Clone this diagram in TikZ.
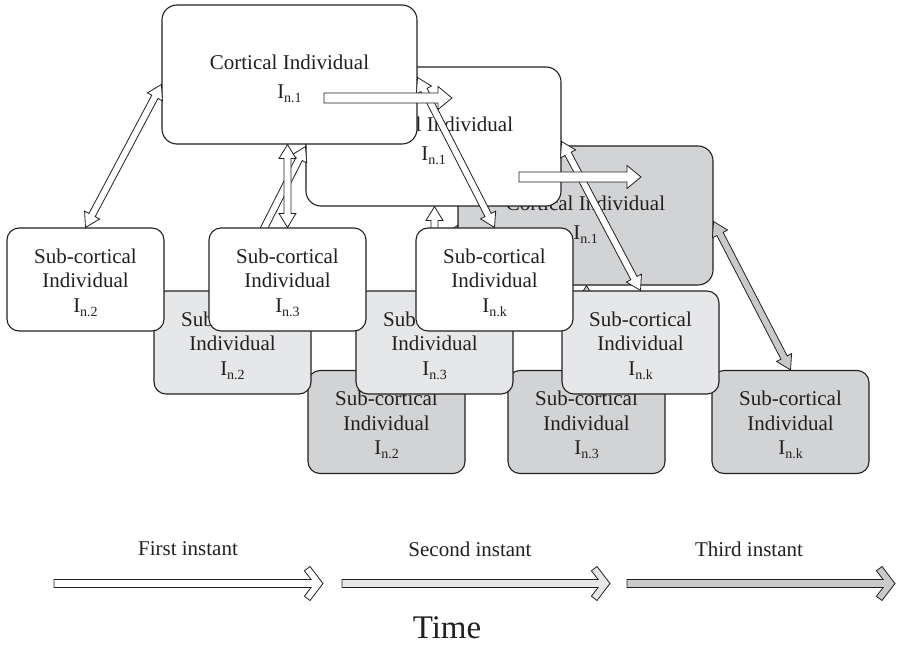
\documentclass[tikz,border=0pt]{standalone}
\usepackage{fontspec}
\setmainfont{Liberation Serif}
\usetikzlibrary{calc}

\definecolor{ink}{HTML}{231F20}
\definecolor{greyB}{HTML}{E6E7E8}
\definecolor{greyC}{HTML}{D1D3D4}
\definecolor{greyCarrow}{HTML}{C8C9CB}

% index with a lowered subscript, e.g. I_{n.1}
\newcommand\ind[1]{I\raisebox{-4pt}{\fontsize{14}{14}\selectfont #1}}
% box texts, set a little below the box centre
\newcommand\cortext{\rule{0pt}{23pt}Cortical Individual\\\ind{n.1}}
\newcommand\subtext[1]{\rule{0pt}{20.5pt}Sub-cortical\\Individual\\\ind{#1}}

\tikzset{
  box/.style={draw=ink, line width=1.1pt, inner sep=0pt, align=center,
    text=ink, font=\fontsize{21}{24.5}\selectfont},
  subbox/.style={box, rounded corners=12pt, minimum width=157pt, minimum height=103pt},
  cortbox/.style={box, rounded corners=15pt, minimum width=255pt, minimum height=139pt,
    font=\fontsize{21}{29}\selectfont},
  arrowline/.style={draw=ink, line width=0.8pt, line join=miter},
  lbl/.style={text=ink, font=\fontsize{21}{24}\selectfont},
}

% hollow double-headed link between two points
\newcommand\linkarrow[3]{%
  \coordinate (la) at (#2);
  \coordinate (lb) at (#3);
  \coordinate (lm1) at ($(la)!14pt!(lb)$);
  \coordinate (lm2) at ($(lb)!14pt!(la)$);
  \filldraw[arrowline, fill=#1] (la)
    -- ($(lm1)!8.5pt!90:(lb)$) -- ($(lm1)!3.5pt!90:(lb)$)
    -- ($(lm2)!3.5pt!-90:(la)$) -- ($(lm2)!8.5pt!-90:(la)$)
    -- (lb)
    -- ($(lm2)!8.5pt!90:(la)$) -- ($(lm2)!3.5pt!90:(la)$)
    -- ($(lm1)!3.5pt!-90:(lb)$) -- ($(lm1)!8.5pt!-90:(lb)$)
    -- cycle;}

% single-headed block arrow between two points
\newcommand\flowarrow[3]{%
  \coordinate (fa) at (#2);
  \coordinate (fb) at (#3);
  \coordinate (fm) at ($(fb)!14pt!(fa)$);
  \filldraw[arrowline, fill=#1] ($(fa)!5pt!90:(fb)$)
    -- ($(fm)!5pt!-90:(fa)$) -- ($(fm)!11.5pt!-90:(fa)$)
    -- (fb)
    -- ($(fm)!11.5pt!90:(fa)$) -- ($(fm)!5pt!90:(fa)$)
    -- ($(fa)!5pt!-90:(fb)$) -- cycle;}

% horizontal time arrow with a chevron head
\newcommand\timearrow[3]{%
  \filldraw[arrowline, fill=#1] ($(#2)+(0,-4)$) -- ($(#3)+(-11.9,-4)$)
    -- ($(#3)+(-18.6,-12.75)$) -- ($(#3)+(-13,-17)$) -- (#3)
    -- ($(#3)+(-13,17)$) -- ($(#3)+(-18.6,12.75)$) -- ($(#3)+(-11.9,4)$)
    -- ($(#2)+(0,4)$) -- cycle;}

\begin{document}
\begin{tikzpicture}[x=1pt, y=-1pt]
\useasboundingbox (0,0) rectangle (902,647);

% third instant (back layer)
\node[cortbox, fill=greyC] (c3) at (585.5,215.5) {\cortext};
\node[subbox, fill=greyC] (s32) at (386.5,422) {\subtext{n.2}};
\node[subbox, fill=greyC] (s33) at (586.5,422) {\subtext{n.3}};
\node[subbox, fill=greyC] (s3k) at (790.5,422) {\subtext{n.k}};
\linkarrow{greyCarrow}{[yshift=-10pt]c3.west}{s32.north}
\linkarrow{greyCarrow}{s33.north |- c3.south}{s33.north}
\linkarrow{greyCarrow}{[yshift=-6pt]c3.east}{s3k.north}

% second instant
\node[cortbox, fill=white] (c2) at (433.5,136.5) {\cortext};
\node[subbox, fill=greyB] (s22) at (232.5,342.5) {\subtext{n.2}};
\node[subbox, fill=greyB] (s23) at (434.5,342.5) {\subtext{n.3}};
\node[subbox, fill=greyB] (s2k) at (640.5,342.5) {\subtext{n.k}};
\linkarrow{white}{[yshift=-10pt]c2.west}{s22.north}
\linkarrow{white}{s23.north |- c2.south}{s23.north}
\linkarrow{white}{[yshift=-5pt]c2.east}{s2k.north}

% first instant (front layer)
\node[cortbox, fill=white] (c1) at (289.5,74.5) {\cortext};
\node[subbox, fill=white] (s12) at (85.5,279.5) {\subtext{n.2}};
\node[subbox, fill=white] (s13) at (287.5,279.5) {\subtext{n.3}};
\node[subbox, fill=white] (s1k) at (494.5,279.5) {\subtext{n.k}};
\linkarrow{white}{[yshift=-10pt]c1.west}{s12.north}
\linkarrow{white}{s13.north |- c1.south}{s13.north}
\linkarrow{white}{[yshift=-3pt]c1.east}{s1k.north}

% cortical individual carried to the next instant
\flowarrow{white}{[shift={(34.5,23.5)}]c1.center}{[shift={(162.5,23.5)}]c1.center}
\flowarrow{white}{[shift={(85.5,40.5)}]c2.center}{[shift={(207.5,40.5)}]c2.center}

% time axis
\coordinate (t1s) at (54,583.5);  \coordinate (t1e) at (323,583.5);
\coordinate (t2s) at (342,583.5); \coordinate (t2e) at (610,583.5);
\coordinate (t3s) at (627,583.5); \coordinate (t3e) at (895,583.5);
\timearrow{white}{t1s}{t1e}
\timearrow{greyB}{t2s}{t2e}
\timearrow{greyCarrow}{t3s}{t3e}
\node[lbl] (first) at (188,549) {First instant};
\node[lbl] (second) at (470,549) {Second instant};
\node[lbl] (third) at (749,549) {Third instant};
\node[text=ink, font=\fontsize{33}{33}\selectfont] (time) at (447,628) {Time};
\end{tikzpicture}
\end{document}
